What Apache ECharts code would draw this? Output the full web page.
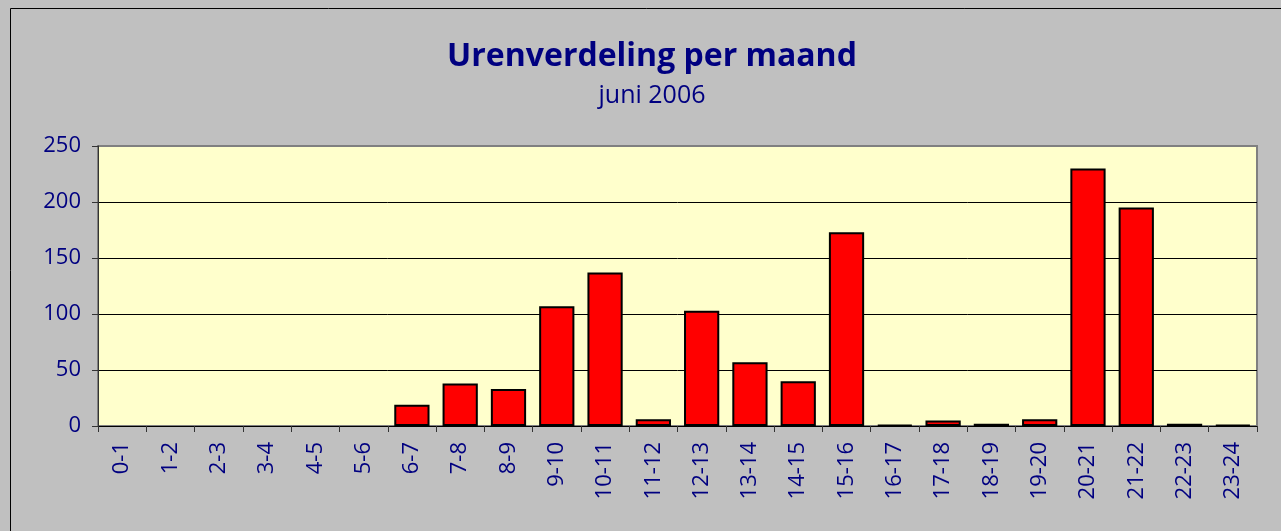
<!DOCTYPE html>
<html>
<head>
<meta charset="utf-8">
<script src="https://cdn.jsdelivr.net/npm/echarts@6/dist/echarts.min.js"></script>
<style>
  html, body { margin: 0; padding: 0; background: #c0c0c0; }
  #chart { width: 1281px; height: 531px; }
</style>
</head>
<body>
<div id="chart"></div>
<script>
// uren van de dag
const hours = ['0-1', '1-2', '2-3', '3-4', '4-5', '5-6', '6-7', '7-8', '8-9', '9-10', '10-11', '11-12',
  '12-13', '13-14', '14-15', '15-16', '16-17', '17-18', '18-19', '19-20', '20-21', '21-22', '22-23', '23-24'];
// aantal per uur, juni 2006
const counts = [0, 0, 0, 0, 0, 0, 19, 38, 33, 107, 137, 6,
  103, 57, 40, 173, 1, 5, 2, 6, 230, 195, 2, 1];
const yTicks = { min: 0, max: 250, interval: 50 };

const navy = '#000080';
const font = 'Open Sans';

const chart = echarts.init(document.getElementById('chart'));
chart.setOption({
  backgroundColor: '#c0c0c0',
  animation: false,
  graphic: [{
    type: 'rect',
    shape: { x: 10.5, y: 8.5, width: 1290, height: 540 },
    style: { fill: 'none', stroke: '#000', lineWidth: 1 },
    silent: true
  }],
  title: {
    text: 'Urenverdeling per maand',
    subtext: 'juni 2006',
    left: 647,
    textAlign: 'center',
    top: 36,
    itemGap: 10,
    textStyle: { color: navy, fontFamily: font, fontWeight: 'bold', fontSize: 32 },
    subtextStyle: { color: navy, fontFamily: font, fontSize: 25 }
  },
  grid: {
    left: 98, right: 24, top: 146, bottom: 105,
    show: true,
    backgroundColor: '#ffffcc',
    borderColor: '#808080',
    borderWidth: 2
  },
  xAxis: {
    type: 'category',
    data: hours,
    axisLine: { lineStyle: { color: '#000', width: 1 } },
    axisTick: { show: true, length: 6, lineStyle: { color: '#333' } },
    axisLabel: {
      rotate: 90, color: navy, fontFamily: font, fontSize: 22, margin: 16
    }
  },
  yAxis: {
    type: 'value',
    min: yTicks.min, max: yTicks.max, interval: yTicks.interval,
    axisLine: { show: true, lineStyle: { color: '#333', width: 1 } },
    axisTick: { show: true, length: 6, lineStyle: { color: '#333' } },
    axisLabel: { color: navy, fontFamily: font, fontSize: 22, margin: 17 },
    splitLine: { lineStyle: { color: ['#000', '#000', '#000', '#000', '#000', '#808080'], width: 1 } }
  },
  series: [{
    type: 'bar',
    // lege uren niet tekenen
    data: counts.map(v => (v === 0 ? '-' : v)),
    barCategoryGap: '27%',
    itemStyle: { color: '#ff0000', borderColor: '#000', borderWidth: 2 }
  }]
});
</script>
</body>
</html>
